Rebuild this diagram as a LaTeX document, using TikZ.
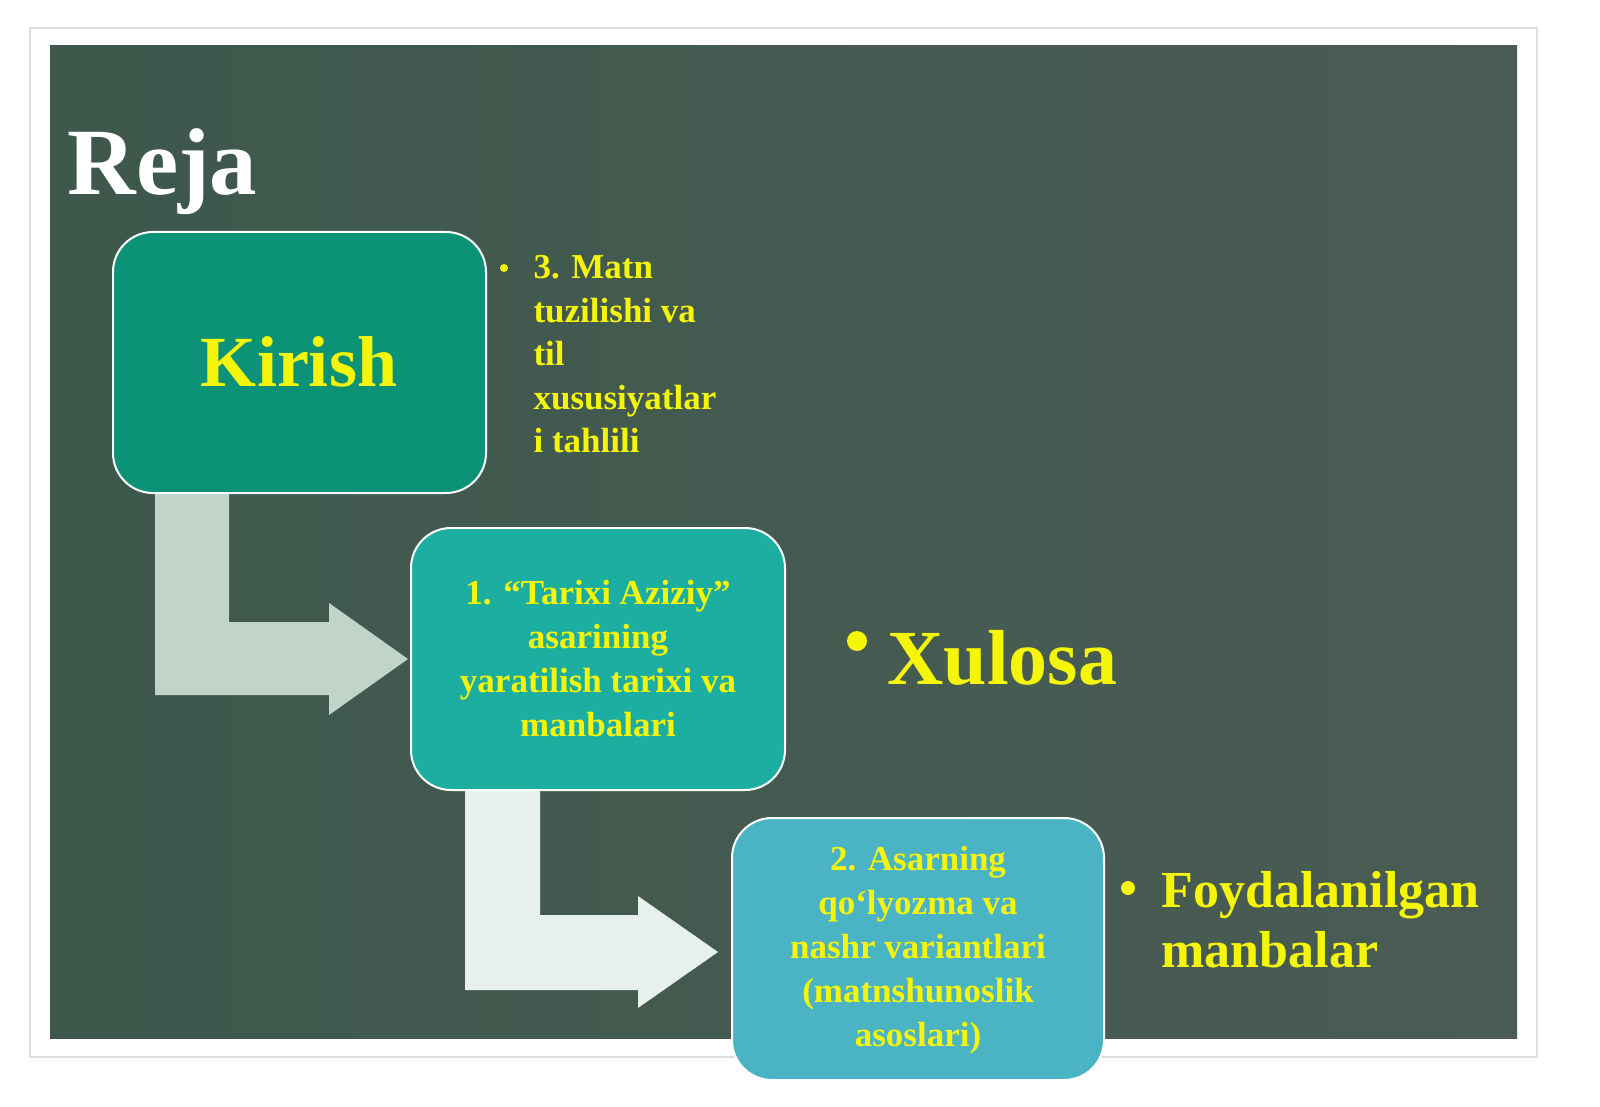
\documentclass[tikz,border=0pt]{standalone}
\usepackage{fontspec}
\setmainfont{Liberation Serif}
\definecolor{bgA}{RGB}{62,88,76}
\definecolor{bgB}{RGB}{74,92,84}
\definecolor{arrA}{RGB}{192,212,202}
\definecolor{arrB}{RGB}{232,240,238}
\definecolor{boxA}{RGB}{12,146,118}
\definecolor{boxB}{RGB}{28,174,160}
\definecolor{boxC}{RGB}{74,180,196}
\definecolor{ytxt}{RGB}{245,245,10}
\begin{document}
\begin{tikzpicture}[x=1pt,y=-1pt,
  box/.style={draw=white,line width=2pt,rounded corners=40pt,inner sep=0pt},
  yel/.style={text=ytxt,font=\bfseries,align=center}]
\useasboundingbox (0,0) rectangle (1600,1107);
\fill[white] (0,0) rectangle (1600,1107);
\draw[gray!25,line width=1.5pt] (30,28) rectangle (1537,1057);
\shade[left color=bgA,right color=bgB] (50,46) rectangle (1517,1038);
\node[text=white,font=\bfseries\fontsize{95}{95}\selectfont,anchor=west] (reja) at (64,172) {Reja};
% arrows
\fill[arrA] (155,493) -- (229,493) -- (229,622) -- (329,622) -- (329,603) -- (408,659) -- (329,715) -- (329,695) -- (155,695) -- cycle;
\fill[arrB] (465,790) -- (540,790) -- (540,915) -- (638,915) -- (638,896) -- (718,952) -- (638,1008) -- (638,990) -- (465,990) -- cycle;
% boxes
\draw[box,fill=boxA] (113,232) rectangle (486,493);
\node[yel,font=\bfseries\fontsize{72}{72}\selectfont] (kirish) at (299,362) {Kirish};
\draw[box,fill=boxB] (411,528) rectangle (785,790);
\node[yel,font=\bfseries\fontsize{35}{44}\selectfont] (b2) at (598,659) {1. “Tarixi Aziziy”\\asarining\\yaratilish tarixi va\\manbalari};
\draw[box,fill=boxC] (732,818) rectangle (1104,1080);
\node[yel,font=\bfseries\fontsize{35}{44}\selectfont] (b3) at (918,950) {2. Asarning\\qo‘lyozma va\\nashr variantlari\\(matnshunoslik\\asoslari)};
% side texts
\fill[ytxt] (504,268) circle (4);
\node[yel,align=left,anchor=north west,font=\bfseries\fontsize{35}{43.5}\selectfont] (t3) at (530,252) {3. Matn\\tuzilishi va\\til\\xususiyatlar\\i tahlili};
\fill[ytxt] (857,641) circle (10);
\node[yel,anchor=west,font=\bfseries\fontsize{78}{78}\selectfont] (xul) at (884,658) {Xulosa};
\fill[ytxt] (1128,888) circle (7);
\node[yel,align=left,anchor=north west,font=\bfseries\fontsize{52}{60}\selectfont] (foy) at (1158,868) {Foydalanilgan\\manbalar};
\end{tikzpicture}
\end{document}
